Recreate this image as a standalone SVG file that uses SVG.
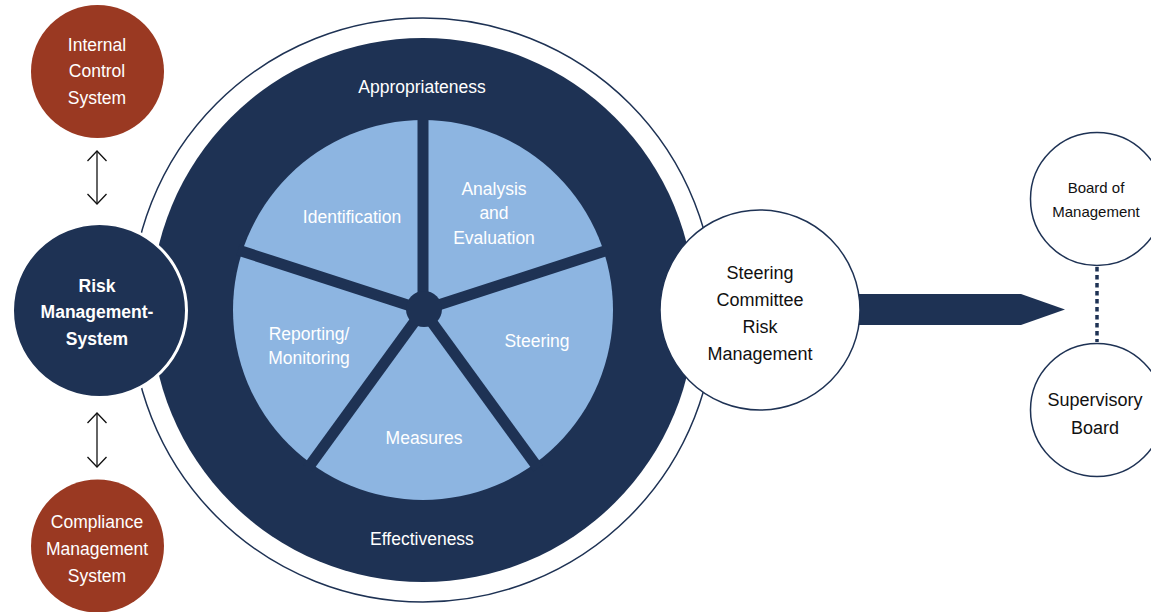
<svg xmlns="http://www.w3.org/2000/svg" width="1151" height="612" viewBox="0 0 1151 612">
<style>
text{font-family:"Liberation Sans",Arial,sans-serif;text-anchor:middle}
.w{fill:#ffffff;font-size:17.5px}
.b{fill:#111111;font-size:18px}
.s{font-size:15px}
.bold{font-weight:bold}
.navy{fill:#1e3254}
.red{fill:#9a3922}
.light{fill:#8db5e1}
.spoke{stroke:#1e3254;stroke-width:11;stroke-linecap:butt}
.ring{fill:none;stroke:#1e3254;stroke-width:1.5}
.arr{stroke:#111;stroke-width:1.3;fill:none}
</style>
<g id="cycle">
<circle class="ring" cx="423" cy="310" r="292"/>
<circle class="navy" cx="423" cy="310" r="272"/>
<circle class="light" cx="423" cy="310" r="190"/>
<line class="spoke" x1="423" y1="310" x2="423" y2="115"/>
<line class="spoke" x1="423" y1="310" x2="608" y2="250"/>
<line class="spoke" x1="423" y1="310" x2="538" y2="468"/>
<line class="spoke" x1="423" y1="310" x2="308" y2="468"/>
<line class="spoke" x1="423" y1="310" x2="238" y2="250"/>
<circle class="navy" cx="424" cy="309" r="18"/>
<text class="w" x="422" y="93">Appropriateness</text>
<text class="w" x="422" y="545">Effectiveness</text>
<text class="w" x="352" y="223">Identification</text>
<text class="w" x="494" y="195">Analysis</text>
<text class="w" x="494" y="219">and</text>
<text class="w" x="494" y="244">Evaluation</text>
<text class="w" x="537" y="347">Steering</text>
<text class="w" x="424" y="444">Measures</text>
<text class="w" x="309" y="340">Reporting/</text>
<text class="w" x="309" y="364">Monitoring</text>
</g>
<g id="connectors">
<g class="arr">
<line x1="97" y1="151" x2="97" y2="204"/>
<path d="M87.5,161 L97,151 L106.5,161"/>
<path d="M87.5,194 L97,204 L106.5,194"/>
<line x1="97" y1="413" x2="97" y2="467"/>
<path d="M87.5,423 L97,413 L106.5,423"/>
<path d="M87.5,457 L97,467 L106.5,457"/>
</g>
<path class="navy" d="M858,294 L1021,294 L1065,309.5 L1021,325 L858,325 Z"/>
<line x1="1097" y1="267" x2="1097" y2="342" stroke="#1e3254" stroke-width="3.5" stroke-dasharray="4.5,3.5"/>
</g>
<g id="ics">
<circle class="red" cx="97.5" cy="71.5" r="66.5"/>
<text class="w" x="97" y="51">Internal</text>
<text class="w" x="97" y="77">Control</text>
<text class="w" x="97" y="104">System</text>
</g>
<g id="rms">
<circle class="navy" cx="99.5" cy="310.5" r="87" stroke="#ffffff" stroke-width="3"/>
<text class="w bold" x="97" y="292">Risk</text>
<text class="w bold" x="97" y="318">Management-</text>
<text class="w bold" x="97" y="345">System</text>
</g>
<g id="cms">
<circle class="red" cx="97.5" cy="546" r="66.5"/>
<text class="w" x="97" y="528">Compliance</text>
<text class="w" x="97" y="555">Management</text>
<text class="w" x="97" y="582">System</text>
</g>
<g id="steering">
<circle cx="760" cy="310" r="100" fill="#ffffff" stroke="#1e3254" stroke-width="1.5"/>
<text class="b" x="760" y="279">Steering</text>
<text class="b" x="760" y="306">Committee</text>
<text class="b" x="760" y="333">Risk</text>
<text class="b" x="760" y="360">Management</text>
</g>
<g id="bom">
<circle cx="1097" cy="199" r="66.5" fill="#ffffff" stroke="#1e3254" stroke-width="1.5"/>
<text class="b s" x="1096" y="193">Board of</text>
<text class="b s" x="1096" y="217">Management</text>
</g>
<g id="sb">
<circle cx="1097" cy="410" r="66.5" fill="#ffffff" stroke="#1e3254" stroke-width="1.5"/>
<text class="b" x="1095" y="406">Supervisory</text>
<text class="b" x="1095" y="434">Board</text>
</g>
</svg>
